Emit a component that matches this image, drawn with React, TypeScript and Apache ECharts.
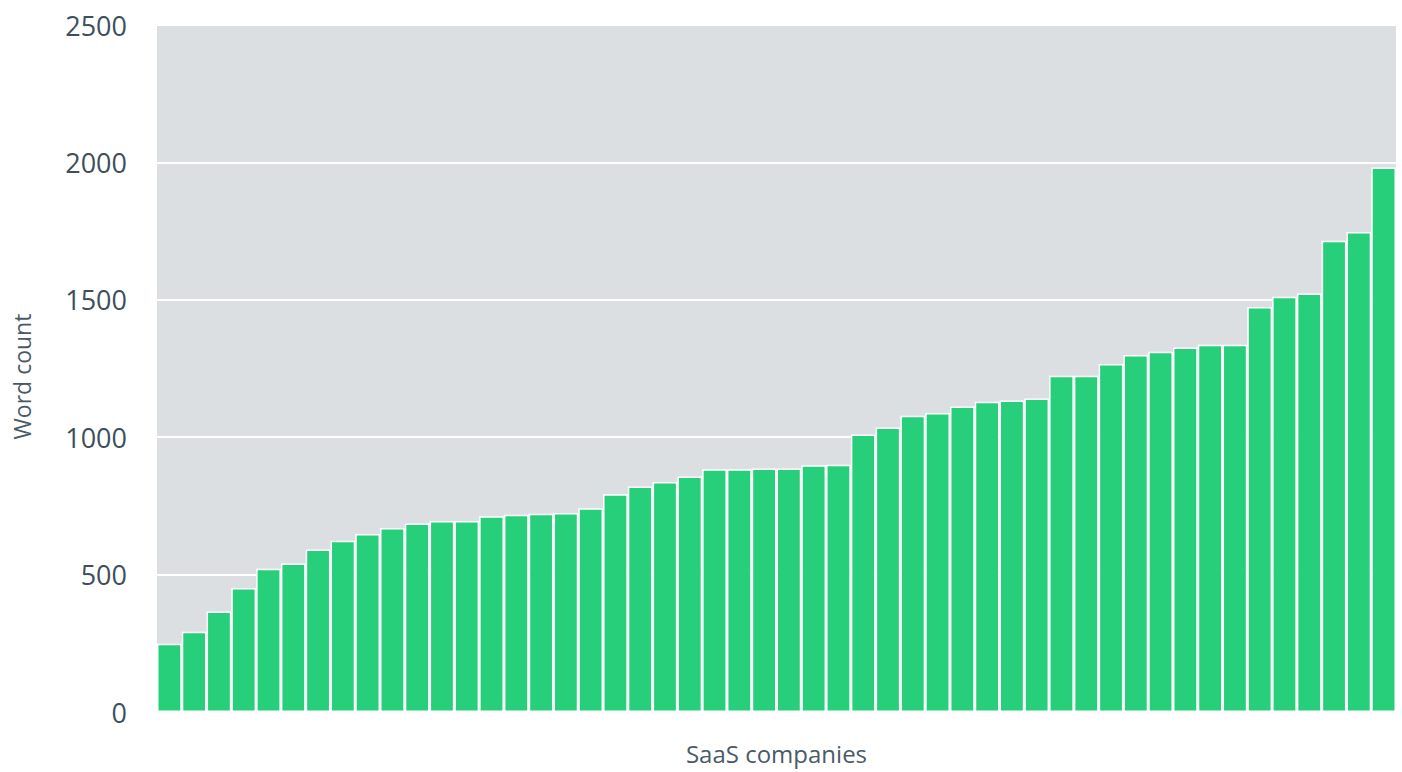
import React, { useEffect, useRef } from "react";
import * as echarts from "echarts";

// Word count per SaaS company homepage, sorted ascending
const companies: string[] = Array.from({ length: 50 }, (_, i) => `Company ${i + 1}`);
const wordCounts: number[] = [
  248, 292, 366, 451, 521, 540, 591, 623, 648, 670,
  686, 695, 695, 712, 718, 721, 724, 741, 792, 821,
  837, 857, 883, 883, 886, 886, 898, 900, 1010, 1035,
  1078, 1088, 1112, 1129, 1134, 1141, 1224, 1224, 1266, 1299,
  1311, 1326, 1336, 1336, 1474, 1511, 1523, 1715, 1747, 1981,
];
const yTicks = { min: 0, max: 2500, interval: 500 };

const textColor = "#3e4f5b";
const fontFamily = "'Open Sans', 'Noto Sans', sans-serif";

export default function App() {
  const ref = useRef<HTMLDivElement>(null);

  useEffect(() => {
    if (!ref.current) return;
    const chart = echarts.init(ref.current, undefined, { renderer: "svg" });
    chart.setOption({
      animation: false,
      grid: {
        left: 157,
        right: 6,
        top: 25,
        bottom: 60,
        outerBoundsMode: "none",
        containLabel: false,
        show: true,
        backgroundColor: "#dcdfe2",
        borderWidth: 0,
      },
      xAxis: {
        type: "category",
        data: companies,
        name: "SaaS companies",
        nameLocation: "middle",
        nameGap: 29,
        nameTextStyle: { color: "#4a5b67", fontSize: 24, fontFamily },
        axisLine: { show: false },
        axisTick: { show: false },
        axisLabel: { show: false },
      },
      yAxis: {
        type: "value",
        min: yTicks.min,
        max: yTicks.max,
        interval: yTicks.interval,
        name: "Word count",
        nameLocation: "middle",
        nameGap: 124,
        nameTextStyle: {
          color: "#4a5b67",
          fontSize: 23,
          fontFamily,
          padding: [0, 16, 0, 0],
        },
        axisLine: { show: false },
        axisTick: { show: false },
        axisLabel: {
          color: textColor,
          fontSize: 27,
          fontFamily,
          margin: 30,
          formatter: (v: number) => String(v),
        },
        splitLine: { lineStyle: { color: "#ffffff", width: 2 } },
      },
      series: [
        {
          type: "bar",
          data: wordCounts,
          barCategoryGap: 0,
          itemStyle: { color: "#27cf7b", borderColor: "#ffffff", borderWidth: 1.5 },
        },
      ],
    });
    return () => chart.dispose();
  }, []);

  return (
    <div
      ref={ref}
      style={{ position: "absolute", left: 0, top: 0, width: 1402, height: 772 }}
    />
  );
}
